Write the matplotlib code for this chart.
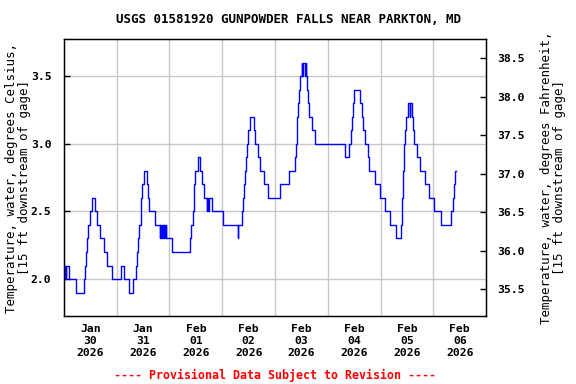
import matplotlib
matplotlib.use("Agg")
import matplotlib.pyplot as plt
from datetime import datetime, timedelta

plt.rcParams['font.family'] = 'DejaVu Sans Mono'
plt.rcParams['font.weight'] = 'bold'
plt.rcParams['font.size'] = 9

# hours after Jan 30 2026 00:00 where the reading changes, and the new reading (deg C)
hours = [0.0, 0.25, 0.5, 0.75, 1.0, 2.2, 5.6, 9.0, 9.5, 10.1, 10.6, 11.0, 11.9, 12.7,
         14.1, 15.1, 16.2, 18.2, 19.8, 21.7,
         26.1, 27.3, 29.8, 31.4, 32.8, 33.1, 33.7, 34.3, 34.9, 35.3, 36.4, 37.6, 38.2,
         38.9, 41.4, 43.6, 43.9, 44.2, 44.5, 44.8, 45.1, 45.4, 45.7, 46.0, 46.3, 46.6,
         49.2, 57.4, 57.9, 58.5, 59.0, 59.2, 59.7, 61.1, 62.0, 62.9, 63.8, 64.9, 65.2,
         65.5, 65.8, 67.2, 72.4,
         79.0, 79.2, 81.1, 81.5, 81.9, 82.3, 82.8, 83.3, 83.8, 84.5, 86.5, 87.1, 88.1,
         89.0, 91.2, 92.7,
         98.2, 102.4, 105.2, 105.5, 105.8, 106.1, 106.5, 106.9, 107.5, 108.1, 108.4,
         108.7, 109.6, 109.9, 110.2, 110.6, 111.0, 111.6, 112.7, 114.1,
         127.7, 129.5, 130.4, 130.9, 131.3, 131.8, 134.5, 135.6, 136.2, 137.0, 138.3,
         138.9, 141.4, 143.7,
         146.0, 148.3, 150.9, 153.2, 153.6, 154.0, 154.6, 155.2, 155.7, 156.4, 157.2,
         157.6, 158.2, 158.7, 159.2, 160.7, 161.7, 164.0, 166.0, 168.3,
         171.5, 176.0, 176.9, 177.6, 178.0, 178.5]
temps = [2.1, 2.0, 2.1, 2.0, 2.1, 2.0, 1.9, 2.0, 2.1, 2.2, 2.3, 2.4, 2.5, 2.6,
         2.5, 2.4, 2.3, 2.2, 2.1, 2.0,
         2.1, 2.0, 1.9, 2.0, 2.1, 2.2, 2.3, 2.4, 2.6, 2.7, 2.8, 2.7, 2.6,
         2.5, 2.4, 2.3, 2.4, 2.3, 2.4, 2.3, 2.4, 2.3, 2.4, 2.3, 2.4, 2.3,
         2.2, 2.3, 2.4, 2.5, 2.6, 2.7, 2.8, 2.9, 2.8, 2.7, 2.6, 2.5, 2.6,
         2.5, 2.6, 2.5, 2.4,
         2.3, 2.4, 2.5, 2.6, 2.7, 2.8, 2.9, 3.0, 3.1, 3.2, 3.1, 3.0, 2.9,
         2.8, 2.7, 2.6,
         2.7, 2.8, 2.9, 3.0, 3.1, 3.2, 3.3, 3.4, 3.5, 3.6, 3.5,
         3.6, 3.5, 3.6, 3.5, 3.4, 3.3, 3.2, 3.1, 3.0,
         2.9, 3.0, 3.1, 3.2, 3.3, 3.4, 3.3, 3.2, 3.1, 3.0, 2.9,
         2.8, 2.7, 2.6,
         2.5, 2.4, 2.3, 2.4, 2.6, 2.8, 3.0, 3.1, 3.2, 3.3, 3.2,
         3.3, 3.2, 3.1, 3.0, 2.9, 2.8, 2.7, 2.6, 2.5,
         2.4, 2.5, 2.6, 2.7, 2.8, 2.8]

start = datetime(2026, 1, 30)
times = [start + timedelta(hours=h) for h in hours]

fig = plt.figure(figsize=(5.76, 3.84), dpi=100)
ax = fig.add_axes([0.111, 0.177, 0.733, 0.721])
ax.plot(times, temps, drawstyle='steps-post', color='#0000ff', lw=1.0, zorder=3)

ax.set_xlim(start, start + timedelta(days=8))
ax.set_ylim(1.727, 3.773)
ax.set_yticks([2.0, 2.5, 3.0, 3.5])
ax.set_yticklabels(['2.0', '2.5', '3.0', '3.5'])

day_lines = [start + timedelta(days=d) for d in range(1, 8)]
noons = [start + timedelta(days=d, hours=12) for d in range(8)]
day_labels = ['Jan\n30\n2026', 'Jan\n31\n2026', 'Feb\n01\n2026', 'Feb\n02\n2026',
              'Feb\n03\n2026', 'Feb\n04\n2026', 'Feb\n05\n2026', 'Feb\n06\n2026']
ax.set_xticks(day_lines)
ax.set_xticklabels([''] * len(day_lines))
ax.set_xticks(noons, minor=True)
ax.set_xticklabels(day_labels, minor=True, linespacing=1.2, fontsize=8.2)
ax.tick_params(axis='x', which='both', length=0, pad=6)
ax.tick_params(axis='y', direction='in', length=4, width=1, pad=9, labelsize=8.2)

ax.grid(True, color='#c8c8c8', lw=1.0, zorder=0)
for s in ax.spines.values():
    s.set_linewidth(1.0)

ax2 = ax.twinx()
ax2.set_ylim(35.15, 38.75)
ax2.set_yticks([35.5, 36.0, 36.5, 37.0, 37.5, 38.0, 38.5])
ax2.set_yticklabels(['35.5', '36.0', '36.5', '37.0', '37.5', '38.0', '38.5'])
ax2.tick_params(axis='y', direction='in', length=4, width=1, pad=8, labelsize=8.2)

ax.set_ylabel('Temperature, water, degrees Celsius,\n[15 ft downstream of gage]',
              linespacing=1.05)
ax.yaxis.set_label_coords(-0.078, 0.5)
ax2.set_ylabel('Temperature, water, degrees Fahrenheit,\n[15 ft downstream of gage]',
               linespacing=1.05)
ax2.yaxis.set_label_coords(1.127, 0.5)

fig.text(0.5, 0.948, 'USGS 01581920 GUNPOWDER FALLS NEAR PARKTON, MD',
         ha='center', va='center', fontsize=9)
fig.text(0.477, 0.023, '---- Provisional Data Subject to Revision ----',
         ha='center', va='center', color='#ff0000', fontsize=8.4)

fig.savefig('out.png', dpi=100)
